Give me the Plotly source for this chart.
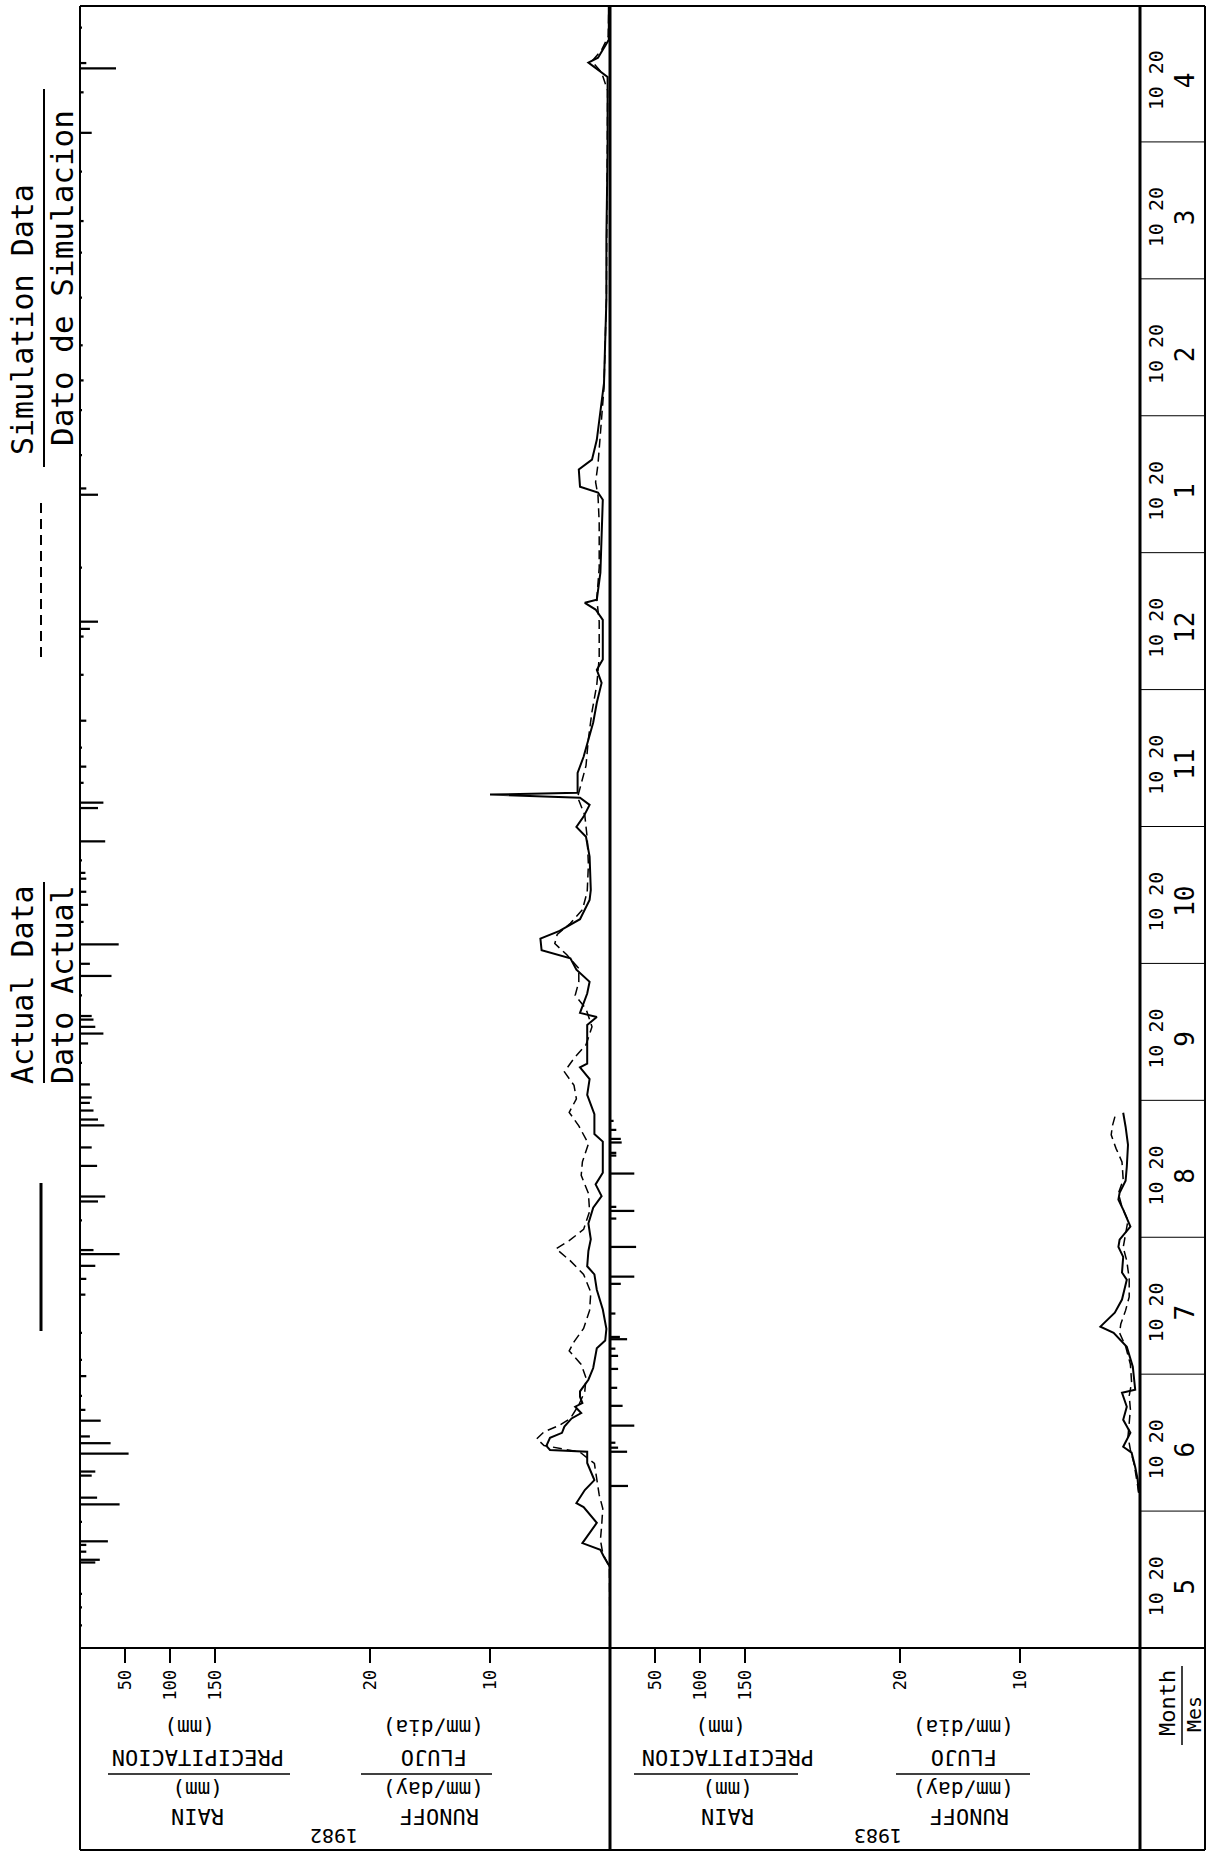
import plotly.graph_objects as go

W, H = 1206, 1855
def px(x): return x / W
def py(y): return 1 - y / H

FONT = "DejaVu Sans Mono"

# ---------------- data (day 0 = 1 May 1982, 365 = 1 May 1983) ----------------
act82_day = [0, 18, 20.2, 21.8, 23.3, 25.6, 27.8, 31.3, 32.2, 35.1, 37.3, 41.1, 43.6, 44.0, 44.9, 46.7,
             47.8, 49.2, 51.0, 52.2, 53.6, 54.4, 55.8, 57.0, 59.6, 62.2, 66.6, 68.3, 70.9, 75.2, 79.6,
             83.0, 84.8, 88.2, 90.8, 94.3, 97.8, 100.4, 103.0, 105.6, 112.5, 114.2, 118.6, 122.9,
             126.4, 129.0, 129.8, 135.9, 138.4, 140.2, 141.1, 145.4, 148.0, 150.7, 153.2, 155.0,
             157.6, 159.3, 161.9, 166.2, 168.4, 175.8, 180.2, 182.4, 184.7, 187.3, 188.9, 189.6,
             190.0, 194.4, 198.0, 205.6, 210.0, 214.4, 217.3, 219.6, 228.4, 230.7, 232.2, 232.9,
             238.9, 255.1, 256.7, 258.0, 261.8, 264.0, 268.4, 281.0, 299.6, 313.6, 332.9, 349.0,
             350.7, 352.2, 353.3, 357.3, 365]
act82_q = [0, 0, 0.5, 0.8, 2.3, 1.7, 1.1, 2.2, 2.8, 2.1, 1.3, 1.9, 1.9, 5.0, 5.3, 5.0,
           4.0, 3.8, 3.2, 2.4, 2.9, 2.3, 2.5, 2.5, 1.8, 1.4, 1.1, 0.4, 0.3, 0.6, 1.1,
           1.3, 1.9, 1.8, 1.6, 1.8, 1.4, 0.7, 1.2, 0.6, 0.6, 1.3, 1.3, 1.9,
           1.7, 2.5, 1.9, 1.9, 1.9, 1.1, 2.5, 1.9, 1.7, 2.8, 3.3, 5.7,
           5.8, 4.2, 2.5, 1.7, 1.6, 1.7, 2.0, 2.8, 2.2, 1.7, 2.5, 10.0,
           2.7, 2.7, 2.2, 1.4, 1.1, 0.7, 1.1, 0.6, 0.6, 1.2, 2.1, 1.1,
           0.8, 0.6, 1.0, 2.5, 2.6, 1.5, 1.1, 0.5, 0.3, 0.3, 0.2, 0.2,
           1.0, 1.8, 1.0, 0.1, 0.1]

sim82_day = [0, 18, 21, 24, 27, 31, 34, 38, 41, 43.5, 45, 46.5, 48, 49.5, 51, 54, 57, 60, 63, 66, 68,
             71, 75, 79, 83, 86, 88.7, 90.5, 93, 97, 101, 105, 108, 112, 116, 119, 122, 125, 128,
             131, 134, 138, 142, 145, 148, 151, 154, 156.5, 158.5, 161, 164, 168, 174, 180, 185,
             189, 192, 196, 202, 208, 214, 220, 228, 233, 240, 250, 256, 259, 263, 270, 280, 300,
             320, 346, 350, 352.5, 355, 358, 365]
sim82_q = [0, 0.05, 0.6, 0.8, 0.7, 0.6, 0.9, 1.1, 1.3, 2.5, 5.5, 6.1, 5.5, 4.2, 3.3, 2.6, 2.1, 2.0, 2.4, 3.4, 3.0,
           2.2, 1.7, 1.6, 2.2, 3.3, 4.5, 3.4, 2.2, 1.7, 1.8, 2.4, 2.3, 1.8, 2.6, 3.4, 2.8, 3.0, 3.8,
           3.0, 2.0, 1.5, 2.0, 2.9, 2.6, 2.6, 3.6, 4.6, 4.4, 3.3, 2.3, 1.9, 1.8, 1.9, 2.1,
           2.7, 2.4, 2.0, 1.8, 1.5, 1.1, 0.9, 0.9, 1.1, 0.9, 0.9, 1.0, 1.2, 1.0, 0.8, 0.5, 0.3,
           0.25, 0.2, 0.7, 1.5, 0.7, 0.15, 0.1]

act83_day = [34.5, 37.5, 40.2, 43.4, 44.7, 47.8, 50.7, 53.6, 56.7, 57.4, 62.5, 66.9, 70.0, 71.4, 74.5,
             77.4, 81.8, 83.4, 86.9, 89.1, 90.7, 93.6, 97.4, 99.6, 101.1, 103.8, 106.9, 111.8,
             115.8, 118.9]
act83_q = [0.1, 0.2, 0.4, 0.7, 1.4, 0.8, 1.4, 1.1, 1.5, 0.4, 0.6, 1.1, 2.2, 3.3, 2.1,
           1.5, 1.1, 1.5, 1.4, 1.8, 1.7, 0.8, 1.4, 1.8, 1.7, 1.2, 1.1, 1.0,
           1.2, 1.4]

sim83_day = [34.5, 38, 41, 44, 47, 50, 53, 56, 59, 63, 67, 70, 72, 75, 78, 82, 86, 89, 92, 95, 98,
             101, 104, 108, 111, 114, 116, 118.9]
sim83_q = [0.1, 0.3, 0.5, 0.8, 1.0, 0.9, 0.8, 0.9, 0.7, 0.8, 1.2, 1.7, 1.6, 1.2, 0.9, 0.9, 1.1, 1.4,
           1.2, 1.0, 1.5, 1.8, 1.4, 1.5, 2.0, 2.4, 2.3, 2.0]

rain82_day = [5, 9, 12, 19.0, 19.6, 21.4, 22.9, 23.7, 28, 31.9, 33.4, 38.3, 39.2, 43.2, 45.5, 47.0,
              50.5, 52.9, 56, 60.4, 64, 70, 78.5, 82.0, 84.9, 87.5, 88.4, 95, 99.2, 100.3, 107.1,
              111.2, 116.1, 117.4, 119.4, 121.1, 122.3, 125.2, 130, 134.3, 136.5, 138.0, 139.6,
              140.4, 145, 149.3, 152.0, 156.3, 161.3, 165.1, 168.0, 170.9, 172.2, 175, 179.2,
              186.6, 187.8, 192.2, 195.8, 200, 206.0, 216.2, 224.7, 226.4, 228.0, 240, 256.2,
              257.6, 265, 275, 281.6, 289.4, 300, 310, 317.0, 328, 336.6, 345.6, 350.9, 352.1, 360]
rain82_mm = [2, 1.5, 2, 17, 22, 7, 7, 31, 2, 44, 19, 13, 17, 54, 34, 11,
             23, 6, 2, 7, 2, 1.5, 6, 7, 17, 44, 15, 2, 20, 28, 19,
             13, 27, 20, 15, 11, 13, 11, 2, 9, 26, 17, 15,
             13, 2, 35, 11, 43, 4, 9, 7, 7, 6, 2, 28,
             20, 26, 4, 7, 2, 7, 4, 4, 11, 20, 2, 20,
             7, 2, 1.5, 4, 3, 2, 1.5, 4, 2, 13, 4, 40, 7, 2]

rain83_day = [36.0, 43.6, 44.5, 45.6, 49.4, 53.8, 57.8, 62.0, 64.9, 66.5, 68.6, 69.1, 74.3, 80.9, 82.5,
              89.1, 95.4, 97.1, 98.0, 105.4, 109.4, 110.0, 112.3, 113.1, 115.1, 117.1]
rain83_mm = [20, 19, 9, 6, 27, 14, 8, 9, 9, 6, 19, 11, 6, 12, 27,
             29, 7, 27, 7, 27, 7, 7, 13, 12, 7, 4]

months = ["5", "6", "7", "8", "9", "10", "11", "12", "1", "2", "3", "4"]
runoff_ticks = [10, 20]
rain_ticks = [50, 100, 150]

# ---------------- figure ----------------
fig = go.Figure()

bar_style = dict(orientation="h", width=0.5, base=0,
                 marker=dict(color="black", line=dict(width=0)), hoverinfo="skip")
fig.add_trace(go.Bar(x=rain82_mm, y=rain82_day, xaxis="x2", yaxis="y", **bar_style))
fig.add_trace(go.Bar(x=rain83_mm, y=rain83_day, xaxis="x4", yaxis="y", **bar_style))

dash_line = dict(color="black", width=1.5, dash="9px,5px")
solid_line = dict(color="black", width=2)
fig.add_trace(go.Scatter(x=sim82_q, y=sim82_day, mode="lines", line=dash_line, xaxis="x", yaxis="y"))
fig.add_trace(go.Scatter(x=act82_q, y=act82_day, mode="lines", line=solid_line, xaxis="x", yaxis="y"))
fig.add_trace(go.Scatter(x=sim83_q, y=sim83_day, mode="lines", line=dash_line, xaxis="x3", yaxis="y"))
fig.add_trace(go.Scatter(x=act83_q, y=act83_day, mode="lines", line=solid_line, xaxis="x3", yaxis="y"))

tickfont = dict(family=FONT, size=17, color="black")
common_x = dict(showgrid=False, zeroline=False, showline=False, ticks="outside", ticklen=14,
                tickwidth=1.5, tickcolor="black", tickangle=-90, tickfont=tickfont,
                anchor="y", side="bottom", fixedrange=True)

P1 = [px(80), px(610)]
P2 = [px(610), px(1140)]
RUNOFF_PX = 12.0   # px per mm/day
RAIN_PX = 0.9      # px per mm

fig.update_layout(
    width=W, height=H,
    margin=dict(l=0, r=0, t=0, b=0),
    paper_bgcolor="white", plot_bgcolor="white",
    showlegend=False, barmode="overlay",
    xaxis=dict(domain=P1, range=[530 / RUNOFF_PX, 0], tickvals=runoff_ticks,
               ticktext=[str(v) for v in runoff_ticks], **common_x),
    xaxis2=dict(overlaying="x", range=[0, 530 / RAIN_PX], tickvals=rain_ticks,
                ticktext=[str(v) for v in rain_ticks], **common_x),
    xaxis3=dict(domain=P2, range=[530 / RUNOFF_PX, 0], tickvals=runoff_ticks,
                ticktext=[str(v) for v in runoff_ticks], **common_x),
    xaxis4=dict(overlaying="x3", range=[0, 530 / RAIN_PX], tickvals=rain_ticks,
                ticktext=[str(v) for v in rain_ticks], **common_x),
    yaxis=dict(domain=[py(1648), py(5)], range=[0, 365], showticklabels=False, ticks="",
               showgrid=False, zeroline=False, showline=False, fixedrange=True),
)

shapes = []
def pline(x0, y0, x1, y1, w=2, dash=None):
    d = dict(type="line", xref="paper", yref="paper", x0=px(x0), y0=py(y0), x1=px(x1), y1=py(y1),
             line=dict(color="black", width=w))
    if dash:
        d["line"]["dash"] = dash
    shapes.append(d)

# frame
pline(80, 6, 1205, 6, 2)
pline(80, 1850, 1205, 1850, 2)
pline(80, 6, 80, 1850, 2)
pline(1205, 6, 1205, 1850, 2)
pline(610, 6, 610, 1850, 3)
pline(1140, 6, 1140, 1850, 3)
pline(80, 1648, 1205, 1648, 2)

# month boundaries in the month column
for k in range(1, 12):
    shapes.append(dict(type="line", xref="paper", yref="y", x0=px(1140), x1=px(1205),
                       y0=k * 365 / 12, y1=k * 365 / 12, line=dict(color="black", width=1)))

# legend lines
pline(44, 89, 44, 467, 2)
pline(41, 503, 41, 663, 2, dash="10px,6px")
pline(44, 882, 44, 1083, 2)
pline(41, 1183, 41, 1331, 3)

# fraction bars in bottom labels
pline(108, 1774, 290, 1774, 1.5)
pline(361, 1774, 492, 1774, 1.5)
pline(634, 1774, 798, 1774, 1.5)
pline(896, 1774, 1030, 1774, 1.5)
pline(1182, 1666, 1182, 1745, 1.5)

fig.update_layout(shapes=shapes)

ann = []
def text(x, y, s, size, angle=0, yref="paper"):
    ann.append(dict(x=px(x), y=(py(y) if yref == "paper" else y), xref="paper", yref=yref,
                    text=s, showarrow=False, textangle=angle, xanchor="center", yanchor="middle",
                    font=dict(family=FONT, size=size, color="black")))

# month column
for k, m in enumerate(months):
    text(1156, (k + 0.45) * 365 / 12, "10 20", 20, -90, yref="y")
    text(1185, (k + 0.45) * 365 / 12, m, 26, -90, yref="y")

# left legend
text(22, 320, "Simulation Data", 30, -90)
text(62, 278, "Dato de Simulacion", 31, -90)
text(22, 985, "Actual Data", 30, -90)
text(62, 985, "Dato Actual", 30, -90)

# bottom labels (upside down)
for dx, year, yx in [(0, "1982", 334), (530, "1983", 878)]:
    text(190 + dx, 1727, "(mm)", 21, 180)
    text(198 + dx, 1758, "PRECIPITACION", 22, 180)
    text(198 + dx, 1789, "(mm)", 21, 180)
    text(198 + dx, 1817, "RAIN", 22, 180)
    text(434 + dx, 1727, "(mm/dia)", 21, 180)
    text(434 + dx, 1758, "FLUJO", 22, 180)
    text(434 + dx, 1789, "(mm/day)", 21, 180)
    text(440 + dx, 1817, "RUNOFF", 22, 180)
    text(yx, 1836, year, 20, 180)

text(1167, 1703, "Month", 22, -90)
text(1194, 1714, "Mes", 20, -90)

fig.update_layout(annotations=ann)

fig.write_html("out.html")
